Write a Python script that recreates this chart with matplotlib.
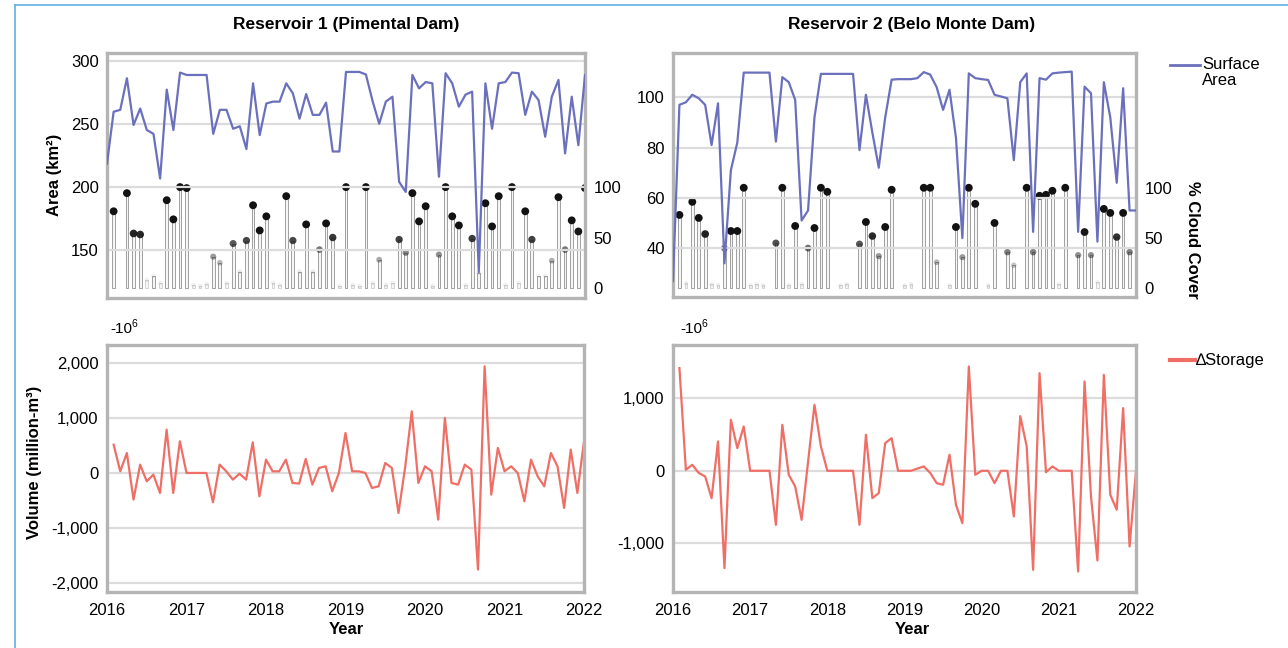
import matplotlib.pyplot as plt
import numpy as np
from matplotlib.lines import Line2D

plt.rcParams['font.family'] = ['Liberation Sans', 'DejaVu Sans']

# monthly samples, Jan 2016 .. Jan 2022
months = 2016 + np.arange(73) / 12.0

# Reservoir 1 (Pimental): surface area (km2), cloud cover (%), storage change (million m3)
r1_area = [218.5, 259.5, 261, 286, 249, 262, 245, 242, 206.6, 277, 245, 290.5,
           288.6, 288.6, 288.6, 288.6, 242, 261, 261, 246, 248, 230, 282, 241,
           266, 267.5, 267.5, 282, 274, 254, 273.5, 257, 257, 266.7, 228, 228,
           291, 291, 291, 289, 268, 250, 267.5, 271.4, 204, 196, 288.6, 278,
           283, 282, 208, 290, 282, 263.5, 273, 275.4, 132.5, 282, 246, 282,
           283, 290.5, 290, 257, 275.4, 268.8, 239.7, 271.4, 284.7, 226.5, 271.4, 233,
           288.6]
r1_cloud = [0, 76, 0, 94, 54, 53, 8, 12, 5, 87, 68, 100,
            99, 3, 2, 4, 31, 25, 5, 44, 16, 47, 82, 57,
            71, 5, 3, 91, 47, 16, 63, 16, 38, 64, 50, 2,
            100, 3, 2, 100, 5, 28, 3, 5, 48, 35, 94, 66,
            81, 2, 33, 100, 71, 62, 3, 49, 15, 84, 61, 91,
            3, 100, 5, 76, 48, 12, 12, 27, 90, 38, 67, 56,
            99]
r1_dstore = [np.nan, 513, 30, 362, -483, 151, -151, -30, -362, 785, -362, 574,
             0, 0, 0, 0, -531, 151, 30, -121, -12, -121, 556, -423,
             242, 30, 30, 242, -181, -193, 254, -211, 91, 121, -332, 0,
             725, 30, 30, 0, -272, -242, 181, 91, -725, 100, 1117, -181,
             121, 30, -846, 997, -181, -211, 151, 60, -1751, 1933, -393, 453,
             30, 121, 0, -513, 242, -60, -242, 362, 121, -634, 423, -362,
             574]

# Reservoir 2 (Belo Monte)
r2_area = [27, 97, 98, 101, 99.6, 97, 81, 97.6, 34, 71, 82, 109.8,
           109.8, 109.8, 109.8, 109.8, 82.4, 108, 106, 99, 51, 55, 92, 109.3,
           109.3, 109.3, 109.3, 109.3, 109.3, 79, 101, 86, 72, 92, 107, 107.2,
           107.2, 107.2, 107.6, 110, 109, 104, 95, 103, 84, 44, 109.5, 107.6,
           107.2, 106.9, 101, 100.3, 99.6, 75, 106, 109.5, 46.5, 107.6, 107, 109.5,
           109.8, 110, 110.2, 46.5, 104.2, 101.6, 42.6, 106, 92, 66, 103.6, 55,
           55]
r2_cloud = [0, 73, 5, 86, 70, 54, 4, 3, 40, 57, 57, 100,
            3, 4, 3, 0, 45, 100, 3, 62, 4, 40, 60, 100,
            96, 0, 3, 4, 0, 44, 66, 52, 32, 61, 98, 0,
            3, 4, 0, 100, 100, 26, 0, 3, 61, 31, 100, 84,
            0, 3, 65, 0, 36, 23, 0, 100, 36, 92, 93, 97,
            4, 100, 0, 33, 56, 33, 6, 79, 75, 51, 75, 36,
            0]
r2_dstore = [np.nan, 1416, 14, 83, -30, -78, -377, 405, -1343, 703, 313, 611,
             0, 0, 0, 0, -745, 634, -55, -216, -676, 120, 910, 336,
             0, 0, 0, 0, 0, -745, 497, -377, -308, 382, 450, 0,
             0, 0, 30, 60, -30, -170, -193, 221, -469, -722, 1439, -55,
             0, 0, -170, 0, 0, -630, 754, 340, -1366, 1347, -20, 60,
             0, 0, 0, -1389, 1232, -354, -1237, 1324, -331, -538, 864, -1044,
             0]

years = [2016, 2017, 2018, 2019, 2020, 2021, 2022]

blue = '#6b70bd'
red = '#ef6f66'

W, H = 1288, 648
fig = plt.figure(figsize=(W / 100, H / 100), dpi=100)


def rect(x0, y0, x1, y1):
    return [x0 / W, 1 - y1 / H, (x1 - x0) / W, (y1 - y0) / H]


def frame(ax):
    for s in ax.spines.values():
        s.set_color('#b4b4b4')
        s.set_linewidth(2.4)
    ax.tick_params(length=0, labelsize=12, pad=6)
    ax.grid(axis='y', color='#dcdcdc', linewidth=1.6)
    ax.set_xlim(2016, 2022)
    ax.set_xticks(years)


def cloud_stems(ax, cover):
    cover = np.asarray(cover, float)
    keep = cover > 0
    x = months[keep]
    v = cover[keep]
    edges = ['#a0a0a0' if c >= 10 else '#d4d4d4' for c in v]
    ax.bar(x, v, width=0.035, color='#f6f6f6', edgecolor=edges,
           linewidth=0.7, zorder=2)
    shade = np.clip((v - 12) / 45.0, 0.06, 1.0)
    cols = [(0.07, 0.07, 0.07, a) for a in shade]
    ax.scatter(x, v, s=10 + 22 * shade, c=cols, linewidths=0, zorder=3)


def area_panel(box, area, cover, ylim, yticks, cylim):
    ax = fig.add_axes(rect(*box))
    cx = ax.twinx()
    ax.set_zorder(cx.get_zorder() + 1)
    ax.patch.set_visible(False)
    cloud_stems(cx, cover)
    cx.set_ylim(cylim)
    cx.set_yticks([0, 50, 100])
    for s in cx.spines.values():
        s.set_visible(False)
    cx.tick_params(length=0, labelsize=12, pad=6, labelbottom=False)
    frame(ax)
    ax.plot(months, area, color=blue, lw=1.6, zorder=4)
    ax.set_ylim(ylim)
    ax.set_yticks(yticks)
    ax.tick_params(labelbottom=False)
    return ax, cx


def storage_panel(box, dstore, ylim, yticks):
    ax = fig.add_axes(rect(*box))
    frame(ax)
    ax.plot(months, dstore, color=red, lw=1.6)
    ax.set_ylim(ylim)
    ax.set_yticks(yticks)
    ax.set_yticklabels(['{:,}'.format(t) for t in yticks])
    ax.set_xticklabels([str(y) for y in years])
    ax.tick_params(axis='x', pad=8)
    return ax


area_panel((107, 53, 585, 298), r1_area, r1_cloud, (112, 306),
           [150, 200, 250, 300], (-10, 233))
area_panel((673, 53, 1136, 297), r2_area, r2_cloud, (20.6, 117.6),
           [40, 60, 80, 100], (-8.6, 234))
storage_panel((107, 345, 584, 592), r1_dstore, (-2158, 2320),
              [-2000, -1000, 0, 1000, 2000])
storage_panel((673, 345, 1136, 592), r2_dstore, (-1672, 1735),
              [-1000, 0, 1000])


def ftext(x, y, s, **kw):
    fig.text(x / W, 1 - y / H, s, **kw)


ftext(346, 25, 'Reservoir 1 (Pimental Dam)', ha='center', va='center',
      weight='bold', size=12.5)
ftext(912, 25, 'Reservoir 2 (Belo Monte Dam)', ha='center', va='center',
      weight='bold', size=12.5)
ftext(55, 175, 'Area (km\u00b2)', rotation=90, ha='center', va='center',
      weight='bold', size=12)
ftext(35, 462, 'Volume (million-m\u00b3)', rotation=90, ha='center', va='center',
      weight='bold', size=12)
ftext(1192, 240, '% Cloud Cover', rotation=270, ha='center', va='center',
      weight='bold', size=12)
ftext(346, 630, 'Year', ha='center', va='center', weight='bold', size=12)
ftext(912, 630, 'Year', ha='center', va='center', weight='bold', size=12)
for x0 in (110, 680):
    ftext(x0, 329, '-10', ha='left', va='center', size=11)
    ftext(x0 + 21, 324, '6', ha='left', va='center', size=7.5)

# legend entries on the right
fig.add_artist(Line2D([1170 / W, 1200 / W], [1 - 65 / H] * 2, color=blue, lw=2))
ftext(1202, 57, 'Surface\nArea', ha='left', va='top', size=12, linespacing=1.1)
fig.add_artist(Line2D([1170 / W, 1195 / W], [1 - 360 / H] * 2, color=red, lw=3))
ftext(1196, 360, '\u2206Storage', ha='left', va='center', size=12)

# thin blue page border
fig.add_artist(Line2D([15 / W, 15 / W], [0, 1 - 5 / H], color='#5fb0e4', lw=1.2))
fig.add_artist(Line2D([15 / W, 1], [1 - 5 / H] * 2, color='#5fb0e4', lw=1.2))

fig.savefig('out.png', dpi=100)
